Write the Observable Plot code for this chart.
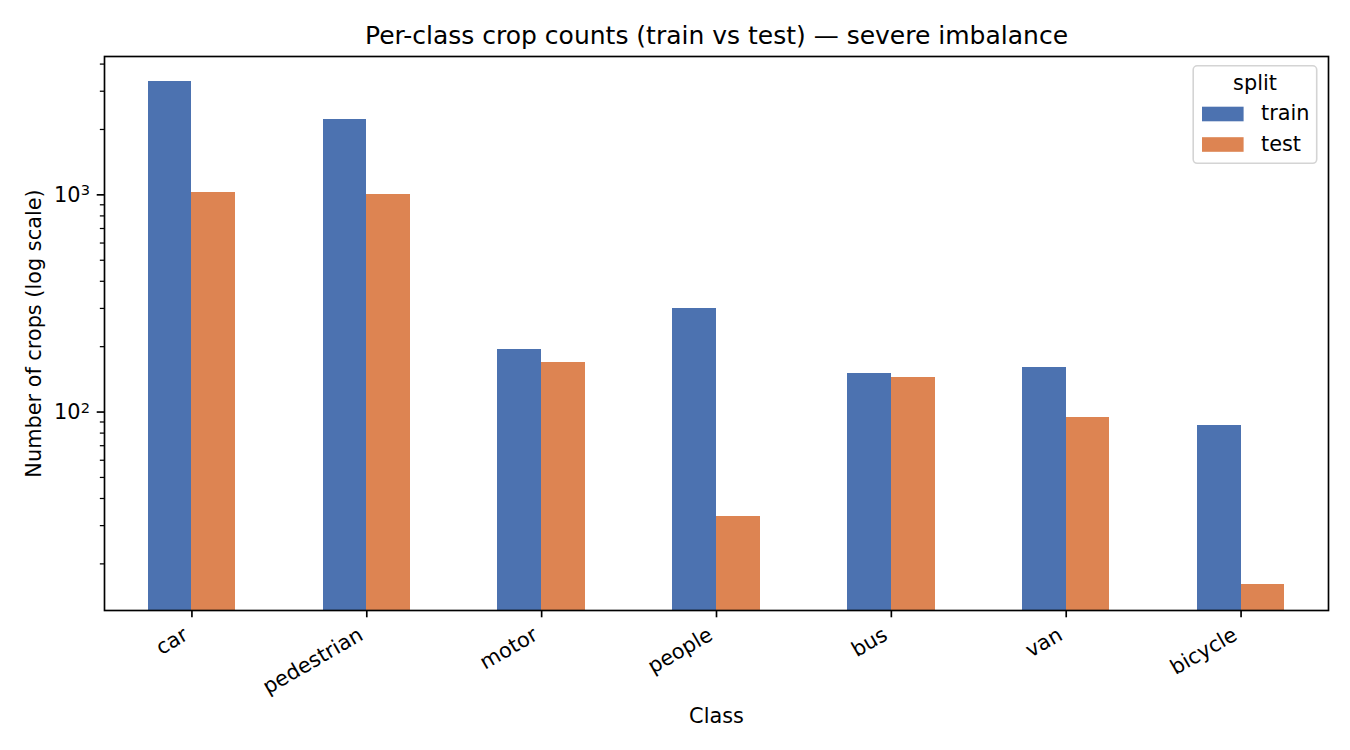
<!DOCTYPE html>
<html>
<head>
<meta charset="utf-8">
<script src="https://cdn.jsdelivr.net/npm/d3@7"></script>
<script src="https://cdn.jsdelivr.net/npm/@observablehq/plot@0.6"></script>
<style>
  html, body { margin: 0; padding: 0; background: #fff; }
  #chart { position: relative; width: 1350px; height: 750px; font-family: "DejaVu Sans", sans-serif; }
</style>
</head>
<body>
<div id="chart"></div>
<script>
// Per-class crop counts for the two dataset splits
const classes = ["car", "pedestrian", "motor", "people", "bus", "van", "bicycle"];
const trainCounts = [3320, 2217, 195, 299, 151, 160, 87];
const testCounts = [1021, 1000, 170, 33, 145, 94, 16];
const splits = ["train", "test"];
const splitColors = ["#4C72B0", "#DD8452"];

// Log-scale y axis: decades get labels, the rest are minor ticks
const yMajorTicks = [100, 1000];
const yMinorTicks = [20, 30, 40, 50, 60, 70, 80, 90, 200, 300, 400, 500, 600, 700, 800, 900, 2000, 3000, 4000];
const yDomain = [12.2, 4335];

const titleText = "Per-class crop counts (train vs test) — severe imbalance";
const xLabelText = "Class";
const yLabelText = "Number of crops (log scale)";

const PT = 150 / 72;          // pixels per typographic point
const FS = 10 * PT;           // base font size
const FONT = "DejaVu Sans, sans-serif";
const BAR = 0.25;             // width of one bar in class units

const rows = classes.flatMap((cls, i) => [
  {cls, i, split: splits[0], value: trainCounts[i]},
  {cls, i, split: splits[1], value: testCounts[i]}
]);

const chart = Plot.plot({
  width: 1350,
  height: 750,
  marginLeft: 104,
  marginRight: 22,
  marginTop: 56,
  marginBottom: 140,
  style: {fontFamily: FONT, fontSize: `${FS}px`, background: "white", color: "black", overflow: "visible"},
  x: {type: "linear", domain: [-0.5, classes.length - 0.5]},
  y: {type: "log", domain: yDomain},
  color: {domain: splits, range: splitColors},
  marks: [
    Plot.rect(rows, {
      x1: (d) => d.i + (d.split === splits[0] ? -BAR : 0),
      x2: (d) => d.i + (d.split === splits[0] ? 0 : BAR),
      y1: () => yDomain[0],
      y2: "value",
      fill: "split",
      shapeRendering: "crispEdges"
    }),
    Plot.frame({stroke: "black", strokeWidth: 0.8 * PT}),
    // x ticks at the group centres, labels rotated like the class names
    Plot.axisX({ticks: d3.range(classes.length), label: null, tickSize: 3.5 * PT, strokeWidth: 0.8 * PT, tickFormat: () => ""}),
    Plot.text(classes, {
      x: (d, i) => i,
      frameAnchor: "bottom",
      dx: -2.4,
      dy: 28.3,
      rotate: -30,
      textAnchor: "end",
      lineAnchor: "bottom",
      fontSize: FS,
      fill: "black"
    }),
    // y axis: major decades and minor ticks
    Plot.axisY({
      ticks: yMajorTicks, label: null, className: "y-major",
      tickFormat: (v) => String(Math.round(Math.log10(v))),
      tickSize: 3.5 * PT, tickPadding: 3.5 * PT, strokeWidth: 0.8 * PT, fontSize: FS
    }),
    Plot.axisY({ticks: yMinorTicks, label: null, tickFormat: () => "", tickSize: 2 * PT, strokeWidth: 0.6 * PT}),
    // axis labels and title
    Plot.text([yLabelText], {frameAnchor: "left", dx: -63.7, rotate: -90, textAnchor: "middle", lineAnchor: "bottom", fontSize: FS, fill: "black"}),
    Plot.text([xLabelText], {frameAnchor: "bottom", dy: 112, textAnchor: "middle", lineAnchor: "bottom", fontSize: FS, fill: "black"}),
    Plot.text([titleText], {frameAnchor: "top", dy: -12.5, textAnchor: "middle", lineAnchor: "bottom", fontSize: 12 * PT, fill: "black"})
  ]
});

// Decade labels as 10 with a raised exponent
d3.select(chart).selectAll(".y-major text").each(function () {
  const exp = this.textContent;
  const t = d3.select(this).text("10");
  t.append("tspan").attr("dy", "-0.42em").attr("font-size", "70%").text(exp);
});

const root = document.getElementById("chart");
root.appendChild(chart);

// Legend box in the upper-right corner of the axes
const lg = d3.select(root).append("svg")
  .attr("width", 128).attr("height", 102)
  .style("position", "absolute").style("left", "1192px").style("top", "64px")
  .style("font-family", FONT).style("font-size", `${FS}px`);
lg.append("rect")
  .attr("x", 1.2).attr("y", 1.8).attr("width", 123.5).attr("height", 97.5).attr("rx", 4)
  .attr("fill", "white").attr("fill-opacity", 0.8)
  .attr("stroke", "#d4d4d4").attr("stroke-width", 1.6);
lg.append("text").attr("x", 63).attr("y", 26).attr("text-anchor", "middle").attr("fill", "black").text("split");
splits.forEach((s, k) => {
  lg.append("rect").attr("x", 10).attr("y", 42.7 + k * 30.5).attr("width", 41.6).attr("height", 14.6).attr("fill", splitColors[k]);
  lg.append("text").attr("x", 69).attr("y", 56 + k * 31).attr("fill", "black").text(s);
});
</script>
</body>
</html>
